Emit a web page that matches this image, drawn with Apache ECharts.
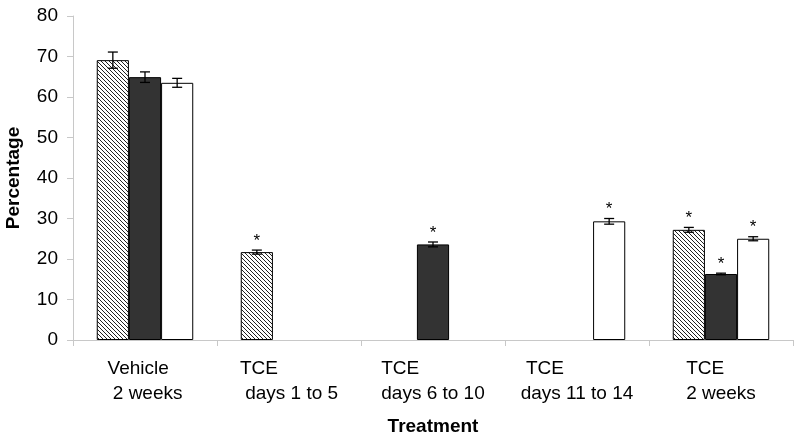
<!DOCTYPE html>
<html>
<head>
<meta charset="utf-8">
<script src="https://cdn.jsdelivr.net/npm/echarts@6/dist/echarts.min.js"></script>
<style>html,body{margin:0;padding:0;background:#fff}#c{width:800px;height:442px}</style>
</head>
<body>
<div id="c"></div>
<script>
const categories = [["Vehicle", " 2 weeks"], ["TCE", " days 1 to 5"], ["TCE", "days 6 to 10"], [" TCE", "days 11 to 14"], ["TCE", "2 weeks"]];
const yTicks = [0, 10, 20, 30, 40, 50, 60, 70, 80];
const hatchedValues = [69.1, 21.7, null, null, 27.2];
const hatchedErrors = [2.0, 0.5, null, null, 0.6];
const hatchedSig = [false, true, false, false, true];
const darkValues = [64.9, null, 23.6, null, 16.3];
const darkErrors = [1.3, null, 0.6, null, 0.2];
const darkSig = [false, false, true, false, true];
const whiteValues = [63.5, null, null, 29.3, 25.0];
const whiteErrors = [1.1, null, null, 0.7, 0.5];
const whiteSig = [false, false, false, true, true];

// hatch pattern
const tile = document.createElement('canvas');
tile.width = 4; tile.height = 4;
const tctx = tile.getContext('2d');
tctx.fillStyle = '#fff'; tctx.fillRect(0, 0, 4, 4);
tctx.fillStyle = '#222';
for (let i = 0; i < 4; i++) tctx.fillRect(i, i, 1, 1);

const catGap = 0.33;
const groups = [
  { values: hatchedValues, errors: hatchedErrors, sig: hatchedSig },
  { values: darkValues, errors: darkErrors, sig: darkSig },
  { values: whiteValues, errors: whiteErrors, sig: whiteSig }
];
const errData = [];
groups.forEach((g, s) => {
  g.values.forEach((v, i) => {
    if (v != null) errData.push([i, v, g.errors[i], s, g.sig[i] ? 1 : 0]);
  });
});

const FONT = 'Liberation Sans';
const chart = echarts.init(document.getElementById('c'), null, { renderer: 'canvas' });
const barStyle = { borderColor: '#000', borderWidth: 1 };
chart.setOption({
  animation: false,
  grid: { left: 73, right: 7, top: 16, bottom: 102, containLabel: false, outerBoundsMode: 'none' },
  xAxis: {
    type: 'category',
    data: categories.map(c => c.join('\n')),
    name: 'Treatment',
    nameLocation: 'middle',
    nameGap: 77,
    nameTextStyle: { fontFamily: FONT, fontSize: 19, fontWeight: 'bold', color: '#000' },
    axisLine: { lineStyle: { color: '#c8c8c8', width: 1 } },
    axisTick: { show: true, length: 6, lineStyle: { color: '#c8c8c8' } },
    axisLabel: {
      margin: 16,
      interval: 0,
      formatter: (v) => v.split('\n').map(l => '{a|' + l + '}').join('\n'),
      rich: { a: { fontFamily: FONT, fontSize: 19, color: '#000', lineHeight: 25, align: 'left' } }
    }
  },
  yAxis: {
    type: 'value',
    min: 0, max: 80, interval: 10,
    name: 'Percentage',
    nameLocation: 'middle',
    nameGap: 50,
    nameTextStyle: { fontFamily: FONT, fontSize: 19, fontWeight: 'bold', color: '#000' },
    axisLine: { show: true, lineStyle: { color: '#c8c8c8', width: 1 } },
    axisTick: { show: true, length: 6, lineStyle: { color: '#c8c8c8' } },
    splitLine: { show: false },
    axisLabel: {
      margin: 15,
      fontFamily: FONT, fontSize: 19, color: '#000',
      formatter: (v) => yTicks.includes(v) ? String(v) : ''
    }
  },
  series: [
    { type: 'bar', data: hatchedValues, barGap: '0%', barCategoryGap: (catGap * 100) + '%',
      itemStyle: Object.assign({ color: { image: tile, repeat: 'repeat' } }, barStyle) },
    { type: 'bar', data: darkValues, barGap: '0%', barCategoryGap: (catGap * 100) + '%',
      itemStyle: Object.assign({ color: '#333333' }, barStyle) },
    { type: 'bar', data: whiteValues, barGap: '0%', barCategoryGap: (catGap * 100) + '%',
      itemStyle: Object.assign({ color: '#ffffff' }, barStyle) },
    {
      type: 'custom',
      data: errData,
      z: 10,
      renderItem: function (params, api) {
        const ci = api.value(0), v = api.value(1), e = api.value(2), s = api.value(3), sig = api.value(4);
        const center = api.coord([ci, v]);
        const bw = api.size([1, 0])[0] * (1 - catGap) / 3;
        const x = center[0] + (s - 1) * bw;
        const top = api.coord([ci, v + e])[1];
        const bot = api.coord([ci, v - e])[1];
        const cw = 5;
        const ls = { stroke: '#000', lineWidth: 1.3 };
        const children = [
          { type: 'line', shape: { x1: x, y1: top, x2: x, y2: bot }, style: ls },
          { type: 'line', shape: { x1: x - cw, y1: top, x2: x + cw, y2: top }, style: ls },
          { type: 'line', shape: { x1: x - cw, y1: bot, x2: x + cw, y2: bot }, style: ls }
        ];
        if (sig) {
          children.push({ type: 'text', style: { text: '*', x: x, y: top - 9, align: 'center', verticalAlign: 'middle',
            font: '17px "Liberation Sans"', fill: '#000' } });
        }
        return { type: 'group', children: children };
      }
    }
  ]
});
</script>
</body>
</html>
